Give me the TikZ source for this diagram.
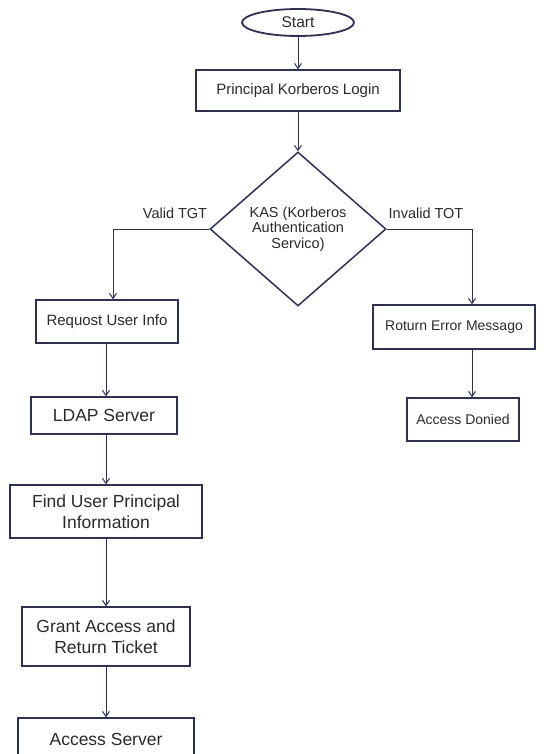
\documentclass[tikz,border=0pt]{standalone}
\usepackage{fontspec}
\setmainfont{Liberation Sans}
\usetikzlibrary{shapes.geometric,arrows.meta}
\definecolor{navy}{HTML}{2F3150}
\definecolor{txt}{HTML}{2A2A2E}
\tikzset{
  box/.style={draw=navy, line width=1.5pt, rectangle, inner sep=0pt, text=txt, align=center, font=\fontsize{15}{18}\selectfont},
  smallbox/.style={box, font=\fontsize{14}{17}\selectfont},
  bigbox/.style={box, font=\fontsize{17.5}{21}\selectfont},
  conn/.style={draw=navy, line width=1pt, -{Straight Barb[length=5pt,width=7pt]}},
  lbl/.style={text=txt, font=\fontsize{14.5}{17}\selectfont, inner sep=0pt}
}
\begin{document}
\begin{tikzpicture}[x=1pt,y=-1pt]
\useasboundingbox (0,0) rectangle (559,754);
\node[draw=navy, line width=1.8pt, ellipse, minimum width=112pt, minimum height=27pt, inner sep=0pt, text=txt, font=\fontsize{15.5}{18}\selectfont] (start) at (298,22.5) {Start};
\node[box, minimum width=204pt, minimum height=41pt] (login) at (298,90.5) {Principal Korberos Login};
\node[draw=navy, line width=1.5pt, diamond, minimum width=176pt, minimum height=154pt, inner sep=0pt, text=txt, align=center, font=\fontsize{14.5}{15.5}\selectfont] (kas) at (298,229) {KAS (Korberos\\Authentication\\Servico)};
\node[lbl] (vl) at (175,213) {Valid TGT};
\node[lbl] (il) at (426,213) {Invalid TOT};
\node[box, minimum width=142pt, minimum height=43pt] (req) at (107,321.5) {Requost User Info};
\node[bigbox, minimum width=146pt, minimum height=37pt] (ldap) at (104,415.5) {LDAP Server};
\node[bigbox, minimum width=192pt, minimum height=53pt] (find) at (106,511.5) {Find User Principal\\Information};
\node[bigbox, minimum width=168pt, minimum height=59pt] (grant) at (106,636.5) {Grant Access and\\Return Ticket};
\node[bigbox, minimum width=176pt, minimum height=42pt] (acc) at (106,739) {Access Server};
\node[smallbox, minimum width=162pt, minimum height=44pt] (err) at (454,327) {Roturn Error Messago};
\node[smallbox, minimum width=112pt, minimum height=43pt] (den) at (463,419.5) {Access Donied};
\draw[conn] (start) -- (login);
\draw[conn] (login) -- (kas);
\draw[conn] (kas.west) -| ([xshift=6pt]req.north);
\draw[conn] (kas.east) -| ([xshift=18pt]err.north);
\draw[conn] ([xshift=-1pt]req.south) -- ([xshift=2pt]ldap.north);
\draw[conn] ([xshift=2pt]ldap.south) -- (find.north);
\draw[conn] (find) -- (grant);
\draw[conn] (grant) -- (acc);
\draw[conn] ([xshift=18pt]err.south) -- ([xshift=9pt]den.north);
\end{tikzpicture}
\end{document}
